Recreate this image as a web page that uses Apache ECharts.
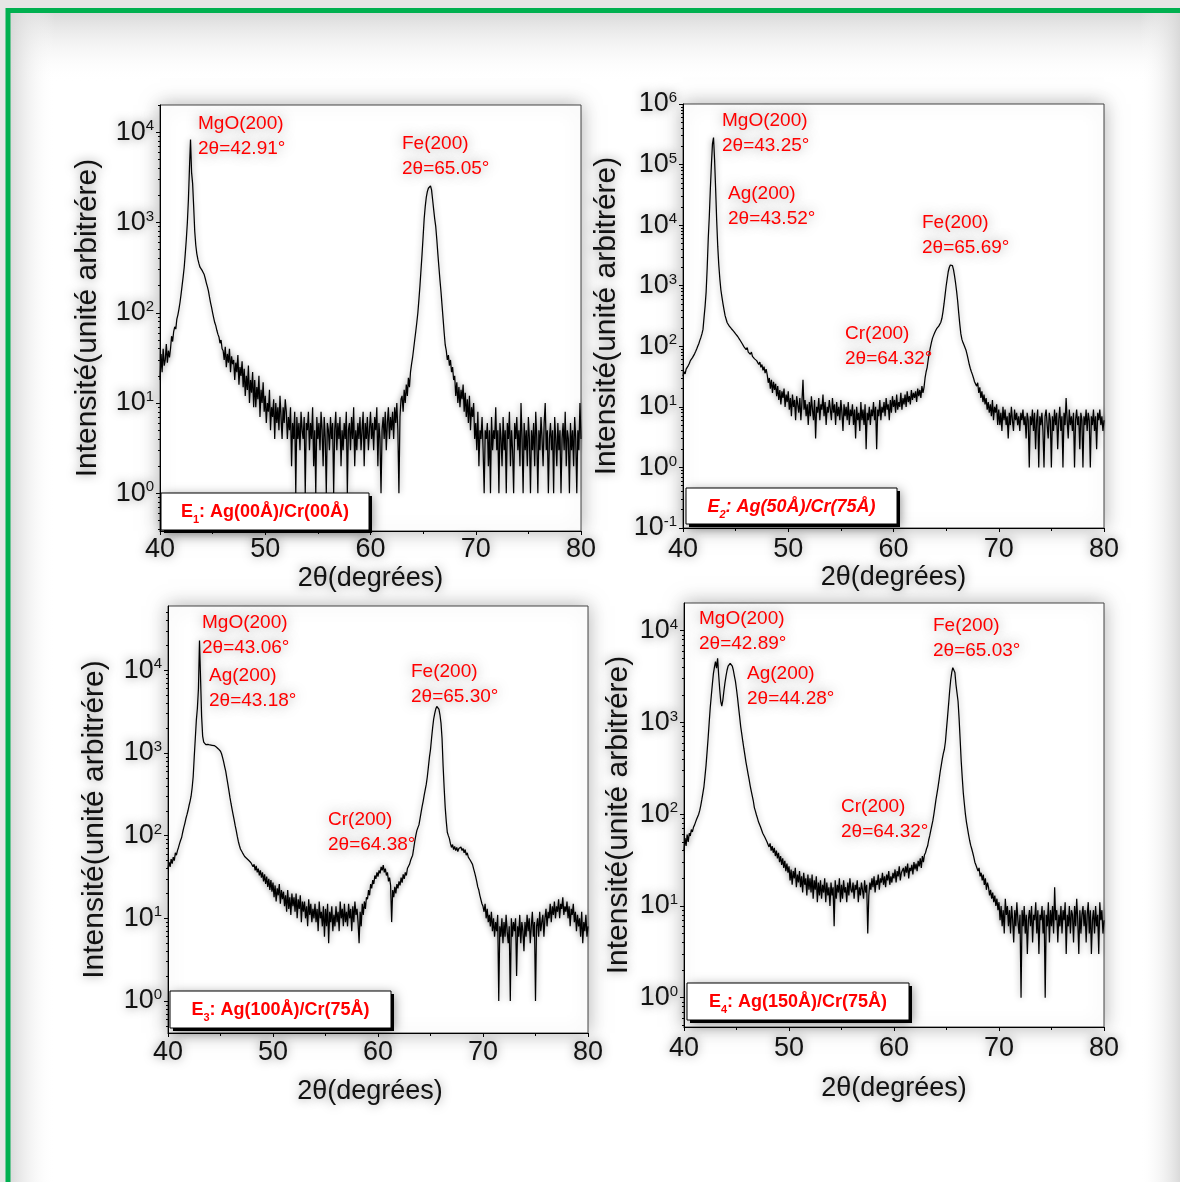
<!DOCTYPE html>
<html>
<head>
<meta charset="utf-8">
<script src="https://cdn.jsdelivr.net/npm/echarts@6/dist/echarts.min.js"></script>
<style>
html, body { margin: 0; padding: 0; background: #e6e6e6; }
#main { width: 1180px; height: 1182px; }
</style>
</head>
<body>
<div id="main"></div>
<script>
// scan grid : 2theta from 40 to 80 degrees, step 0.1
var TH0 = 40, TH_STEP = 0.1;

// E1 : Ag(00A)/Cr(00A)
var intensityE1 = [
  18, 35, 22, 40, 26, 30, 45, 28, 38, 32,
  40, 55, 48, 62, 70, 66, 85, 95, 110, 130,
  160, 200, 250, 320, 450, 650, 1000, 1800, 4000, 8300,
  3600, 2700, 1500, 800, 560, 450, 390, 350, 320, 305,
  295, 280, 265, 240, 215, 195, 175, 150, 130, 115,
  100, 88, 78, 72, 64, 58, 54, 46, 50, 40,
  38, 30, 42, 25, 35, 28, 40, 22, 33, 27,
  30, 18, 28, 22, 34, 16, 25, 20, 29, 15,
  24, 12, 20, 14, 26, 10, 18, 13, 22, 9,
  18, 9, 15, 11, 20, 7, 14, 10, 17, 8,
  12, 6, 10, 8, 14, 5, 9, 7, 11, 4,
  10, 6, 9, 5, 12, 7, 4, 9, 6, 11,
  8, 4, 7, 5, 9, 2, 6, 4, 8, 1,
  7, 4, 6, 3, 8, 5, 4, 7, 1, 6,
  5, 8, 3, 6, 4, 9, 2, 5, 1, 7,
  4, 6, 3, 8, 5, 2, 7, 4, 1, 6,
  5, 3, 7, 4, 6, 1, 5, 8, 3, 6,
  4, 7, 2, 5, 3, 6, 4, 8, 1, 5,
  6, 3, 7, 4, 9, 2, 5, 3, 6, 4,
  7, 3, 5, 8, 2, 6, 4, 7, 3, 5,
  8, 4, 6, 3, 7, 5, 9, 2, 6, 4,
  1, 5, 7, 4, 8, 3, 6, 9, 4, 7,
  5, 8, 4, 9, 6, 10, 5, 1, 7, 11,
  12, 8, 14, 10, 16, 12, 19, 15, 22, 27,
  32, 40, 50, 62, 78, 100, 140, 200, 300, 450,
  700, 1100, 1500, 1900, 2200, 2400, 2500, 2550, 2300, 1800,
  1400, 1100, 900, 650, 450, 320, 230, 170, 120, 85,
  60, 44, 38, 30, 34, 26, 30, 22, 25, 18,
  20, 12, 17, 10, 15, 9, 14, 11, 16, 8,
  13, 7, 11, 6, 12, 5, 9, 7, 10, 4,
  6, 3, 8, 2, 5, 4, 7, 3, 1, 5,
  4, 6, 2, 5, 1, 7, 3, 5, 4, 9,
  3, 5, 1, 6, 4, 2, 7, 3, 5, 1,
  6, 4, 8, 2, 5, 3, 1, 6, 4, 7,
  3, 5, 2, 10, 4, 1, 6, 3, 5, 2,
  7, 4, 1, 5, 3, 6, 2, 8, 4, 1,
  5, 3, 7, 4, 2, 6, 10, 3, 5, 1,
  4, 6, 3, 5, 1, 7, 4, 2, 6, 3,
  5, 1, 4, 6, 3, 8, 2, 5, 4, 1,
  6, 3, 5, 2, 7, 4, 1, 5, 3, 10,
  4
];

// E2 : Ag(50A)/Cr(75A)
var intensityE2 = [
  32, 38, 35, 42, 40, 48, 52, 58, 55, 65,
  70, 75, 82, 90, 100, 110, 125, 140, 160, 190,
  300, 460, 800, 2000, 6000, 14000, 40000, 100000, 220000, 280000,
  120000, 40000, 12000, 4500, 2200, 1300, 850, 650, 500, 400,
  320, 280, 245, 230, 215, 200, 195, 185, 178, 168,
  160, 150, 145, 135, 128, 120, 112, 105, 98, 92,
  88, 95, 80, 86, 74, 80, 68, 72, 62, 66,
  58, 62, 50, 55, 45, 50, 40, 46, 36, 42,
  34, 25, 30, 20, 28, 17, 26, 19, 24, 15,
  22, 13, 19, 11, 18, 14, 20, 10, 16, 12,
  18, 9, 14, 7, 16, 10, 13, 6, 15, 11,
  8, 14, 6, 12, 28, 9, 13, 7, 11, 5,
  12, 7, 15, 9, 6, 13, 3, 10, 8, 14,
  6, 11, 9, 16, 7, 12, 5, 10, 8, 13,
  9, 6, 14, 8, 11, 5, 12, 7, 10, 6,
  13, 8, 4, 11, 7, 10, 6, 12, 5, 9,
  7, 11, 5, 9, 3, 10, 6, 8, 4, 12,
  6, 9, 5, 11, 2, 8, 6, 10, 5, 9,
  7, 12, 6, 10, 2, 9, 7, 13, 6, 10,
  8, 12, 7, 14, 9, 11, 6, 13, 8, 15,
  10, 13, 8, 16, 9, 12, 10, 17, 9, 14,
  11, 16, 10, 18, 12, 15, 11, 19, 13, 17,
  14, 18, 12, 20, 15, 19, 14, 22, 17, 21,
  30, 38, 45, 60, 78, 95, 115, 135, 150, 165,
  180, 195, 205, 215, 230, 250, 290, 370, 500, 700,
  980, 1300, 1700, 2000, 2200, 2250, 2150, 1850, 1450, 1100,
  800, 550, 350, 230, 160, 130, 115, 105, 98, 85,
  72, 60, 50, 43, 38, 34, 30, 26, 28, 22,
  25, 17, 21, 14, 18, 12, 16, 11, 14, 9,
  12, 8, 11, 7, 13, 6, 10, 8, 11, 5,
  9, 5, 8, 4, 10, 6, 9, 5, 7, 3,
  8, 5, 10, 6, 4, 9, 6, 8, 5, 7,
  4, 8, 6, 9, 5, 7, 3, 8, 6, 1,
  7, 5, 9, 4, 8, 2, 6, 9, 1, 7,
  5, 8, 4, 1, 7, 9, 5, 3, 8, 6,
  1, 7, 4, 9, 5, 8, 2, 6, 10, 4,
  7, 1, 8, 5, 14, 6, 3, 9, 5, 7,
  4, 8, 1, 6, 9, 5, 7, 2, 8, 6,
  1, 7, 5, 9, 4, 8, 6, 1, 7, 5,
  9, 4, 7, 2, 8, 6, 9, 5, 7, 4,
  6
];

// E3 : Ag(100A)/Cr(75A)
var intensityE3 = [
  40, 48, 42, 52, 46, 55, 50, 62, 58, 66,
  72, 80, 88, 95, 110, 125, 140, 160, 178, 200,
  230, 260, 300, 380, 520, 900, 1500, 2500, 3500, 6000,
  23000, 8000, 2800, 1600, 1350, 1280, 1260, 1250, 1270, 1260,
  1250, 1260, 1240, 1250, 1230, 1200, 1180, 1150, 1120, 1100,
  1050, 980, 880, 780, 680, 600, 500, 420, 350, 290,
  245, 210, 180, 155, 132, 115, 98, 85, 76, 69,
  66, 62, 60, 56, 58, 53, 55, 50, 52, 47,
  48, 42, 45, 38, 43, 36, 40, 33, 38, 31,
  36, 28, 34, 26, 32, 24, 30, 22, 29, 21,
  27, 18, 25, 16, 23, 19, 26, 15, 22, 17,
  21, 14, 19, 12, 22, 13, 18, 11, 20, 14,
  18, 12, 20, 10, 17, 13, 19, 9, 16, 12,
  16, 10, 14, 8, 17, 11, 15, 9, 13, 10,
  15, 9, 13, 7, 16, 10, 12, 8, 14, 6,
  13, 8, 15, 5, 12, 9, 14, 7, 11, 8,
  14, 9, 12, 7, 16, 10, 13, 8, 15, 9,
  12, 8, 15, 10, 13, 7, 14, 9, 16, 11,
  13, 9, 5, 12, 8, 15, 11, 16, 13, 18,
  17, 22, 19, 26, 23, 29, 26, 33, 30, 36,
  32, 38, 35, 42, 38, 44, 36, 40, 33, 36,
  28, 31, 25, 9, 22, 18, 24, 20, 26, 23,
  28, 25, 31, 27, 34, 30, 36, 33, 40, 38,
  45, 50, 54, 58, 70, 85, 100, 115, 125, 135,
  160, 190, 224, 260, 310, 360, 420, 520, 680, 890,
  1100, 1500, 2000, 2570, 3000, 3400, 3650, 3700, 3400, 2900,
  2300, 1500, 700, 380, 220, 150, 110, 100, 92, 80,
  72, 78, 68, 74, 66, 72, 64, 70, 67, 73,
  66, 70, 62, 68, 58, 62, 55, 58, 50, 52,
  45, 40, 36, 32, 28, 24, 22, 19, 18, 15,
  14, 12, 15, 10, 13, 9, 11, 8, 12, 7,
  10, 6, 9, 7, 11, 1, 8, 6, 10, 5,
  9, 6, 11, 7, 5, 8, 1, 10, 6, 9,
  7, 10, 2, 8, 6, 11, 5, 9, 7, 4,
  9, 6, 11, 7, 10, 5, 8, 12, 6, 9,
  1, 8, 10, 6, 12, 7, 9, 11, 6, 10,
  13, 8, 12, 10, 15, 9, 14, 11, 16, 10,
  14, 12, 17, 10, 15, 13, 18, 11, 14, 12,
  16, 10, 14, 8, 13, 11, 15, 9, 12, 7,
  11, 8, 10, 6, 12, 5, 9, 7, 11, 6,
  8
];

// E4 : Ag(150A)/Cr(75A)
var intensityE4 = [
  40, 55, 45, 60, 50, 62, 58, 68, 64, 72,
  76, 82, 88, 92, 100, 110, 125, 145, 170, 200,
  260, 340, 480, 680, 1000, 1450, 1950, 2600, 3400, 4000,
  4600, 3900, 5000, 3300, 2300, 1700, 1500, 1750, 2200, 2700,
  3200, 3700, 4100, 4300, 4400, 4350, 4100, 3700, 3200, 2800,
  2300, 1850, 1450, 1150, 900, 750, 620, 520, 440, 370,
  320, 275, 240, 205, 180, 158, 140, 118, 108, 98,
  90, 82, 80, 72, 70, 62, 64, 56, 58, 50,
  52, 44, 48, 40, 45, 38, 43, 35, 40, 33,
  38, 30, 35, 28, 33, 26, 31, 24, 29, 23,
  27, 19, 25, 17, 24, 20, 26, 16, 22, 18,
  24, 16, 21, 14, 23, 17, 20, 13, 22, 15,
  20, 14, 22, 12, 19, 15, 21, 11, 18, 13,
  19, 12, 17, 14, 20, 11, 18, 13, 16, 10,
  18, 13, 16, 6, 19, 12, 17, 14, 20, 11,
  17, 12, 19, 14, 16, 11, 18, 13, 20, 15,
  14, 18, 12, 17, 15, 19, 11, 16, 13, 18,
  15, 12, 19, 14, 17, 5, 13, 18, 15, 20,
  16, 21, 14, 19, 17, 22, 15, 20, 18, 23,
  17, 21, 16, 22, 19, 24, 17, 21, 18, 23,
  20, 25, 18, 24, 21, 27, 19, 23, 22, 26,
  21, 27, 23, 29, 20, 26, 24, 28, 22, 30,
  25, 29, 24, 31, 27, 33, 26, 35, 30, 36,
  38, 42, 45, 52, 58, 66, 75, 85, 100, 120,
  145, 170, 200, 240, 290, 340, 400, 460, 510, 620,
  850, 1150, 1580, 2200, 2900, 3500, 3950, 4000, 3500, 2600,
  2100, 1700, 1100, 650, 380, 250, 170, 130, 100, 82,
  70, 60, 52, 46, 42, 38, 34, 30, 28, 27,
  24, 26, 21, 23, 19, 22, 17, 20, 15, 18,
  16, 13, 15, 12, 14, 11, 13, 10, 12, 9,
  11, 7, 10, 6, 9, 5, 12, 8, 10, 6,
  9, 5, 10, 7, 4, 9, 6, 11, 7, 5,
  8, 1, 9, 6, 10, 5, 8, 3, 7, 9,
  6, 10, 4, 8, 7, 11, 5, 9, 3, 8,
  7, 10, 5, 9, 1, 8, 6, 11, 4, 9,
  6, 10, 5, 16, 7, 9, 4, 8, 6, 10,
  5, 9, 7, 11, 3, 8, 6, 10, 5, 9,
  8, 4, 10, 6, 12, 7, 3, 9, 5, 8,
  10, 6, 9, 4, 8, 11, 5, 9, 3, 7,
  9, 5, 10, 6, 8, 3, 11, 7, 9, 5,
  7
];

// decade tick labels of each panel
var decadesE1 = [1, 10, 100, 1000, 10000];
var decadesE2 = [0.1, 1, 10, 100, 1000, 10000, 100000, 1000000];
var decadesE3 = [1, 10, 100, 1000, 10000];
var decadesE4 = [1, 10, 100, 1000, 10000];

var sampleIdx = ['1', '2', '3', '4'];
var sampleNames = [': Ag(00Å)/Cr(00Å)', ': Ag(50Å)/Cr(75Å)', ': Ag(100Å)/Cr(75Å)', ': Ag(150Å)/Cr(75Å)'];

// peak annotations : [phase, 2theta text]
var peaksE1 = [['MgO(200)', '42.91'], ['Fe(200)', '65.05']];
var peaksE2 = [['MgO(200)', '43.25'], ['Ag(200)', '43.52'], ['Fe(200)', '65.69'], ['Cr(200)', '64.32']];
var peaksE3 = [['MgO(200)', '43.06'], ['Ag(200)', '43.18'], ['Fe(200)', '65.30'], ['Cr(200)', '64.38']];
var peaksE4 = [['MgO(200)', '42.89'], ['Ag(200)', '44.28'], ['Fe(200)', '65.03'], ['Cr(200)', '64.32']];

var FONT = '"Liberation Sans", Arial, sans-serif';
var HAZE = 'rgba(0,0,0,0.45)';

// layout of the four plots (pixels)
var panels = [
  { vals: intensityE1, decades: decadesE1, peaks: peaksE1, italic: false,
    left: 160, top: 105, width: 421, height: 426, ymin: 0.382, ymax: 20070,
    yGap: 57, xGap: 34, xMargin: 5, xShift: 0,
    box: [161, 493, 208, 37], notes: [[198, 111], [402, 131]] },
  { vals: intensityE2, decades: decadesE2, peaks: peaksE2, italic: true,
    left: 683, top: 104, width: 421, height: 424, ymin: 0.0999, ymax: 1.001e6,
    yGap: 61, xGap: 32, xMargin: 8, xShift: 0,
    box: [686, 488, 211, 36], notes: [[722, 108], [728, 181], [922, 210], [845, 321]] },
  { vals: intensityE3, decades: decadesE3, peaks: peaksE3, italic: false,
    left: 168, top: 606, width: 420, height: 427, ymin: 0.41, ymax: 60000,
    yGap: 58, xGap: 45, xMargin: 6, xShift: 16,
    box: [170, 991, 221, 37], notes: [[202, 610], [209, 663], [411, 659], [328, 807]] },
  { vals: intensityE4, decades: decadesE4, peaks: peaksE4, italic: false,
    left: 684, top: 603, width: 420, height: 424, ymin: 0.48, ymax: 20000,
    yGap: 50, xGap: 48, xMargin: 8, xShift: 0,
    box: [687, 983, 222, 37], notes: [[699, 606], [747, 661], [933, 613], [841, 794]] }
];

function pairs(vals) {
  return vals.map(function (v, i) {
    return [Math.round((TH0 + i * TH_STEP) * 10) / 10, v];
  });
}

function minorValues(min, max) {
  var out = [];
  for (var e = -2; e <= 6; e++) {
    for (var k = 2; k <= 9; k++) {
      var v = k * Math.pow(10, e);
      if (v > min && v < max) out.push(v);
    }
  }
  return out;
}

function powLabel(v) {
  var e = Math.round(Math.log10(v));
  return '{b|10}{s|' + e + '}';
}

function fade(x0, y0, x1, y1) {
  return { type: 'linear', x: x0, y: y0, x2: x1, y2: y1,
    colorStops: [{ offset: 0, color: 'rgba(214,214,214,0.9)' }, { offset: 1, color: 'rgba(255,255,255,0)' }] };
}

// page background : gray outside, white inside the green frame, soft gray haze along its edges
var graphics = [
  { type: 'rect', z: -100, shape: { x: 8, y: 10.5, width: 1200, height: 1200 },
    style: { fill: '#ffffff' } },
  { type: 'rect', z: -99, shape: { x: 10, y: 13, width: 1170, height: 70 },
    style: { fill: fade(0, 0, 0, 1) } },
  { type: 'rect', z: -99, shape: { x: 10, y: 13, width: 45, height: 1170 },
    style: { fill: fade(0, 0, 1, 0) } },
  { type: 'rect', z: -99, shape: { x: 1140, y: 13, width: 40, height: 1170 },
    style: { fill: fade(1, 0, 0, 0) } },
  { type: 'rect', z: -98, shape: { x: 8, y: 10.5, width: 1200, height: 1200 },
    style: { fill: 'none', stroke: '#00b050', lineWidth: 5 } }
];

var option = {
  backgroundColor: '#e6e6e6',
  animation: false,
  textStyle: { fontFamily: FONT },
  grid: [], xAxis: [], yAxis: [], series: [],
  graphic: { elements: graphics }
};

panels.forEach(function (p, i) {
  option.grid.push({
    left: p.left, top: p.top, width: p.width, height: p.height,
    show: true, backgroundColor: '#ffffff', borderColor: '#444', borderWidth: 1,
    shadowBlur: 18, shadowColor: 'rgba(0,0,0,0.3)'
  });

  option.xAxis.push({
    type: 'value', gridIndex: i, min: 40, max: 80, interval: 10,
    name: '2θ(degrées)', nameLocation: 'middle', nameGap: p.xGap,
    nameTextStyle: { fontSize: 27, color: '#111', textShadowColor: HAZE, textShadowBlur: 10,
      padding: [0, p.xShift, 0, 0] },
    axisLine: { lineStyle: { color: '#000', width: 1 } },
    axisTick: { length: 4, lineStyle: { color: '#000' } },
    minorTick: { show: true, splitNumber: 2, length: 3, lineStyle: { color: '#000' } },
    splitLine: { show: false },
    axisLabel: { fontSize: 27, color: '#111', margin: p.xMargin,
      textShadowColor: HAZE, textShadowBlur: 10 }
  });

  option.yAxis.push({
    type: 'log', logBase: 10, gridIndex: i, position: 'left',
    min: p.ymin, max: p.ymax,
    name: 'Intensité(unité arbitrére)', nameLocation: 'middle', nameRotate: 90, nameGap: p.yGap,
    nameTextStyle: { fontSize: 30, color: '#111', textShadowColor: HAZE, textShadowBlur: 10 },
    axisLine: { show: true, lineStyle: { color: '#000', width: 1 } },
    axisTick: { show: true, length: 4, customValues: p.decades, lineStyle: { color: '#000' } },
    splitLine: { show: false },
    axisLabel: {
      customValues: p.decades, margin: 6, formatter: powLabel,
      textShadowColor: HAZE, textShadowBlur: 10,
      rich: {
        b: { fontSize: 27, color: '#111', textShadowColor: HAZE, textShadowBlur: 10 },
        s: { fontSize: 15, color: '#111', verticalAlign: 'top', textShadowColor: HAZE, textShadowBlur: 8 }
      }
    }
  });
  option.yAxis.push({
    type: 'log', logBase: 10, gridIndex: i, position: 'left',
    min: p.ymin, max: p.ymax,
    axisLine: { show: false },
    axisTick: { show: true, length: 2, customValues: minorValues(p.ymin, p.ymax), lineStyle: { color: '#000' } },
    axisLabel: { show: false },
    splitLine: { show: false }
  });

  option.series.push({
    type: 'line', xAxisIndex: i, yAxisIndex: 2 * i,
    data: pairs(p.vals), showSymbol: false, symbol: 'none', silent: true,
    lineStyle: { color: '#000', width: 1.25, shadowBlur: 6, shadowColor: 'rgba(0,0,0,0.45)' }
  });

  // peak labels
  p.peaks.forEach(function (pk, j) {
    graphics.push({
      type: 'text', z: 100, x: p.notes[j][0], y: p.notes[j][1],
      style: {
        text: pk[0] + '\n2θ=' + pk[1] + '°',
        fill: '#ff0000', fontSize: 19, fontFamily: FONT, lineHeight: 25,
        textShadowColor: 'rgba(0,0,0,0.4)', textShadowBlur: 12
      }
    });
  });

  // sample box
  var b = p.box;
  var style = p.italic ? 'italic' : 'normal';
  graphics.push({
    type: 'group', z: 110,
    children: [
      { type: 'rect', z: 110, shape: { x: b[0] + 3, y: b[1] + 3, width: b[2], height: b[3] },
        style: { fill: '#000', shadowBlur: 12, shadowColor: 'rgba(0,0,0,0.5)' } },
      { type: 'rect', z: 111, shape: { x: b[0], y: b[1], width: b[2], height: b[3] },
        style: { fill: '#fff', stroke: '#000', lineWidth: 1 } },
      { type: 'text', z: 112, x: b[0] + b[2] / 2, y: b[1] + b[3] / 2 + 1,
        style: {
          text: '{a|E}{s|' + sampleIdx[i] + '}{a|' + sampleNames[i] + '}',
          align: 'center', textAlign: 'center', verticalAlign: 'middle', textVerticalAlign: 'middle',
          rich: {
            a: { fontSize: 18, fontWeight: 'bold', fontStyle: style, fill: '#ff0000', color: '#ff0000',
                 fontFamily: FONT, lineHeight: 26 },
            s: { fontSize: 11, fontWeight: 'bold', fontStyle: style, fill: '#ff0000', color: '#ff0000',
                 fontFamily: FONT, verticalAlign: 'bottom' }
          }
        } }
    ]
  });
});

var chart = echarts.init(document.getElementById('main'), null, { renderer: 'canvas' });
chart.setOption(option);
</script>
</body>
</html>
